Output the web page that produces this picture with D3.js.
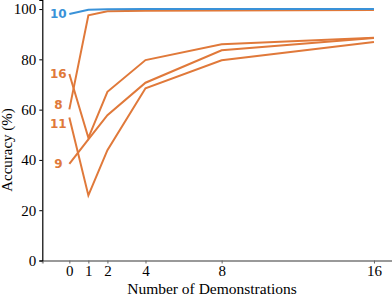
<!DOCTYPE html>
<html>
<head>
<meta charset="utf-8">
<script src="https://cdn.jsdelivr.net/npm/d3@7"></script>
<style>
  body { margin: 0; background: #fff; }
  svg { display: block; }
  .tick text { font-family: "Liberation Serif", "Times New Roman", serif; font-size: 15px; fill: #000; }
  .lbl { font-family: "DejaVu Sans", sans-serif; font-weight: bold; font-size: 12px; }
</style>
</head>
<body>
<div id="chart"></div>
<script>
// demonstrations on the x axis
const shots = [0, 1, 2, 4, 8, 16];
const yTicks = [0, 20, 40, 60, 80, 100];

// one line per model/task, label drawn at the left end
const names = ["16", "8", "11", "9", "10"];
const acc16 = [74.2, 48.8, 67.1, 79.7, 86.0, 88.6];
const acc8 = [60.1, 97.5, 99.1, 99.3, 99.4, 99.6];
const acc11 = [56.9, 25.9, 43.9, 68.5, 79.6, 86.9];
const acc9 = [38.4, 48.2, 57.8, 70.7, 83.6, 88.5];
const acc10 = [98.0, 99.7, 99.9, 100, 100, 100];

const orange = "#e0793a", blue = "#3a92d8";

const width = 392, height = 298;
const left = 42.3, bottom = 260.5;

const svg = d3.select("#chart").append("svg")
    .attr("width", width)
    .attr("height", height);

const x = d3.scaleLinear().domain([-1.42, 17]).range([left, width + 1]);
const y = d3.scaleLinear().domain([0, 103.6]).range([bottom, 0]);

// x axis (gray spine)
const gx = svg.append("g")
    .attr("transform", "translate(0," + bottom + ")")
    .call(d3.axisBottom(x).tickValues(shots).tickSize(3).tickPadding(3));
gx.select(".domain").attr("stroke", "#999").attr("stroke-width", 2);
gx.selectAll(".tick line").attr("stroke", "#666");
gx.selectAll(".tick text").attr("dy", "0.62em");

// y axis
const gy = svg.append("g")
    .attr("transform", "translate(" + left + ",0)")
    .call(d3.axisLeft(y).tickValues(yTicks).tickSize(3).tickPadding(3));
gy.select(".domain").attr("stroke", "#000").attr("stroke-width", 1.2);

const series = [
    { name: "16", vals: acc16, color: orange, dy: 0 },
    { name: "8", vals: acc8, color: orange, dy: -5 },
    { name: "11", vals: acc11, color: orange, dy: 6 },
    { name: "9", vals: acc9, color: orange, dy: 0 },
    { name: "10", vals: acc10, color: blue, dy: 0 }
];

const line = d3.line()
    .x((d, i) => x(shots[i]))
    .y(d => y(d));

svg.selectAll(".acc")
    .data(series)
    .enter().append("path")
    .attr("class", "acc")
    .attr("d", d => line(d.vals))
    .attr("fill", "none")
    .attr("stroke", d => d.color)
    .attr("stroke-width", 2);

svg.selectAll(".lbl")
    .data(series)
    .enter().append("text")
    .attr("class", "lbl")
    .attr("x", x(0) - 11)
    .attr("y", d => y(d.vals[0]) + d.dy)
    .attr("dy", "0.36em")
    .attr("text-anchor", "middle")
    .attr("fill", d => d.color)
    .text(d => d.name);

svg.append("text")
    .attr("x", 212)
    .attr("y", 294)
    .attr("text-anchor", "middle")
    .style("font-family", "Liberation Serif, serif")
    .style("font-size", "15.5px")
    .text("Number of Demonstrations");

svg.append("text")
    .attr("transform", "translate(12,150) rotate(-90)")
    .attr("text-anchor", "middle")
    .style("font-family", "Liberation Serif, serif")
    .style("font-size", "15px")
    .text("Accuracy (%)");
</script>
</body>
</html>
